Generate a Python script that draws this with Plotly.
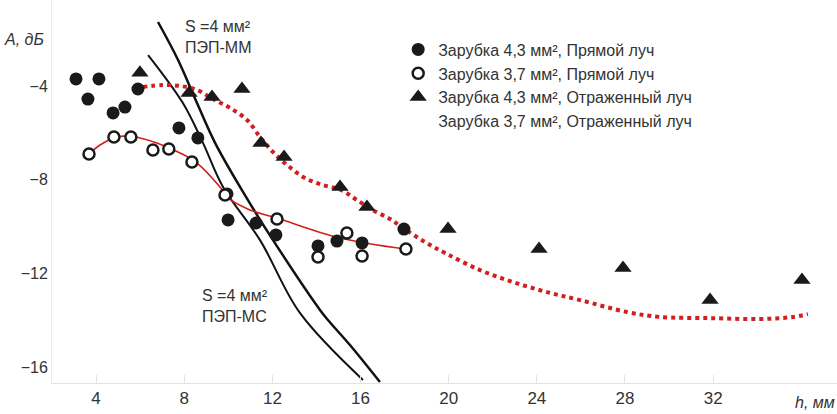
import plotly.graph_objects as go

# Зарубка 4,3 мм², прямой луч
h_direct_43 = [3.09, 4.13, 3.63, 4.77, 5.31, 5.90, 7.76, 8.62, 9.94, 9.99, 11.26, 12.16, 14.07, 14.93, 16.07, 17.97]
a_direct_43 = [-3.70, -3.70, -4.56, -5.15, -4.90, -4.13, -5.79, -6.22, -8.61, -9.72, -9.85, -10.36, -10.83, -10.62, -10.70, -10.11]

# Зарубка 3,7 мм², прямой луч
h_direct_37 = [3.68, 4.81, 5.58, 6.58, 7.30, 8.35, 9.85, 12.21, 14.07, 15.38, 16.07, 18.06]
a_direct_37 = [-6.90, -6.18, -6.18, -6.73, -6.69, -7.25, -8.65, -9.68, -11.30, -10.28, -11.26, -10.96]

# Зарубка 4,3 мм², отраженный луч
h_refl_43 = [5.99, 8.22, 9.26, 10.62, 11.48, 12.53, 15.07, 16.29, 19.97, 24.10, 27.91, 31.86, 36.03]
a_refl_43 = [-3.44, -4.30, -4.47, -4.13, -6.43, -7.03, -8.31, -9.17, -10.11, -10.96, -11.77, -13.14, -12.28]

# Сглаживающая кривая для прямого луча (3,7 мм²)
h_fit_direct = [3.68, 4.18, 4.81, 5.40, 5.99, 6.76, 7.81, 8.58, 9.62, 9.99, 10.98, 12.21, 15.07, 18.02]
a_fit_direct = [-6.90, -6.52, -6.22, -6.13, -6.22, -6.43, -6.86, -7.29, -8.31, -8.78, -9.29, -9.64, -10.49, -10.96]

# Сглаживающая кривая для отраженного луча
h_fit_refl = [6.13, 7.04, 7.81, 8.58, 9.31, 10.08, 10.85, 11.44, 12.03, 12.66, 13.48, 14.30, 15.11, 15.84,
              16.56, 17.34, 17.93, 18.92, 19.92, 21.42, 22.92, 24.46, 25.96, 28.09, 29.59, 31.86, 34.12, 35.62, 36.30]
a_fit_refl = [-4.04, -3.96, -4.00, -4.17, -4.56, -4.94, -5.45, -6.18, -6.82, -7.37, -7.93, -8.23, -8.44, -8.87,
              -9.30, -9.68, -10.06, -10.66, -11.17, -11.86, -12.37, -12.80, -13.14, -13.65, -13.86, -13.91, -13.95, -13.86, -13.74]

# Расчетные кривые, S = 4 мм²
h_pep_mm = [6.81, 7.72, 8.58, 9.40, 10.53, 12.03, 14.16, 14.52, 15.52, 16.88]
a_pep_mm = [-1.27, -2.89, -4.73, -6.43, -8.31, -10.58, -13.56, -13.99, -15.06, -16.64]
h_pep_ms = [6.36, 7.94, 8.85, 9.76, 11.44, 13.25, 16.11]
a_pep_ms = [-2.68, -4.73, -6.43, -8.31, -10.58, -13.69, -16.55]

x_ticks = [4, 8, 12, 16, 20, 24, 28, 32]
y_ticks = [-16, -12, -8, -4]

FONT = "Liberation Sans, Arial, sans-serif"
TEXT = "#333333"
RED = "#d11f1f"

fig = go.Figure()

fig.add_trace(go.Scatter(x=h_pep_ms, y=a_pep_ms, mode="lines", line=dict(color="#111111", width=2, shape="spline"),
                         showlegend=False, hoverinfo="skip"))
fig.add_trace(go.Scatter(x=h_pep_mm, y=a_pep_mm, mode="lines", line=dict(color="#111111", width=2.5, shape="spline"),
                         showlegend=False, hoverinfo="skip"))
fig.add_trace(go.Scatter(x=h_fit_direct, y=a_fit_direct, mode="lines", line=dict(color=RED, width=1.6, shape="spline"),
                         showlegend=False, hoverinfo="skip"))
fig.add_trace(go.Scatter(x=h_fit_refl, y=a_fit_refl, mode="lines",
                         line=dict(color=RED, width=4, shape="spline", dash="4px,4px"),
                         showlegend=False, hoverinfo="skip"))

fig.add_trace(go.Scatter(x=h_direct_43, y=a_direct_43, mode="markers", name="Зарубка 4,3 мм², Прямой луч",
                         marker=dict(symbol="circle", size=13, color="#1a1a1a", line=dict(width=0))))
fig.add_trace(go.Scatter(x=h_direct_37, y=a_direct_37, mode="markers", name="Зарубка 3,7 мм², Прямой луч",
                         marker=dict(symbol="circle", size=11, color="white", line=dict(width=2.5, color="#1a1a1a"))))
fig.add_trace(go.Scatter(x=h_refl_43, y=a_refl_43, mode="markers", name="Зарубка 4,3 мм², Отраженный луч",
                         marker=dict(symbol="triangle-up", size=15, color="#1a1a1a", line=dict(width=0))))
fig.add_trace(go.Scatter(x=[None], y=[None], mode="markers", name="Зарубка 3,7 мм², Отраженный луч",
                         marker=dict(symbol="triangle-up", size=15, color="white", line=dict(width=0))))

fig.add_annotation(x=1.0, y=-0.05, xref="paper", yref="paper", xanchor="right", yanchor="middle",
                   text="<i>h, мм</i>", showarrow=False, font=dict(family=FONT, size=16, color=TEXT))
fig.add_annotation(x=-0.008, y=0.896, xref="paper", yref="paper", xanchor="right", yanchor="middle",
                   text="<i>A, дБ</i>", showarrow=False, font=dict(family=FONT, size=16, color=TEXT))
fig.add_annotation(x=7.95, y=-1.93, xref="x", yref="y", xanchor="left", yanchor="middle", align="left",
                   text="S =4 мм²<br>ПЭП-ММ", showarrow=False, font=dict(family=FONT, size=16, color=TEXT))
fig.add_annotation(x=8.7, y=-13.4, xref="x", yref="y", xanchor="left", yanchor="middle", align="left",
                   text="S =4 мм²<br>ПЭП-МС", showarrow=False, font=dict(family=FONT, size=16, color=TEXT))

fig.update_layout(
    width=837, height=414,
    margin=dict(l=52, r=0, t=0, b=31),
    paper_bgcolor="white", plot_bgcolor="white",
    font=dict(family=FONT, size=16, color=TEXT),
    legend=dict(x=0.441, y=0.915, xanchor="left", yanchor="top", bgcolor="rgba(0,0,0,0)",
                font=dict(family=FONT, size=16, color=TEXT), tracegroupgap=0, itemsizing="trace"),
    xaxis=dict(range=[2.0, 37.62], tickvals=x_ticks, ticks="inside", ticklen=8, tickcolor="#e2e2e2",
               showline=True, linecolor="#e2e2e2", linewidth=1, showgrid=False, zeroline=False,
               tickfont=dict(family=FONT, size=17, color=TEXT)),
    yaxis=dict(range=[-16.68, -0.33], tickvals=y_ticks, ticks="", showline=True, linecolor="#ececec",
               linewidth=1, showgrid=False, zeroline=False,
               tickfont=dict(family=FONT, size=16, color=TEXT)),
)

fig.write_html("out.html")
